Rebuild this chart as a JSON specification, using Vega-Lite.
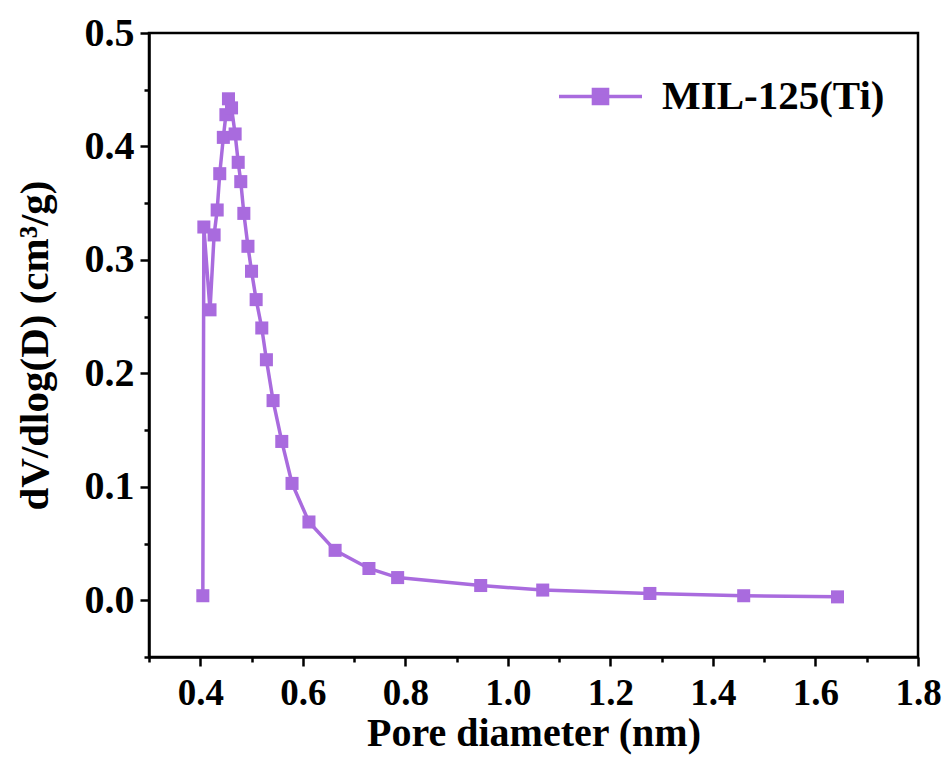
{
  "$schema": "https://vega.github.io/schema/vega-lite/v6.json",
  "width": 769,
  "height": 624,
  "autosize": "none",
  "padding": {"left": 149, "top": 33, "right": 34, "bottom": 101},
  "background": "white",
  "config": {
    "view": {"stroke": "black", "strokeWidth": 2.5},
    "font": "Liberation Serif"
  },
  "data": {
    "values": [
      {"i": 1, "d": 0.405, "v": 0.004, "s": "MIL-125(Ti)"},
      {"i": 2, "d": 0.407, "v": 0.329, "s": "MIL-125(Ti)"},
      {"i": 3, "d": 0.419, "v": 0.256, "s": "MIL-125(Ti)"},
      {"i": 4, "d": 0.427, "v": 0.322, "s": "MIL-125(Ti)"},
      {"i": 5, "d": 0.433, "v": 0.344, "s": "MIL-125(Ti)"},
      {"i": 6, "d": 0.438, "v": 0.376, "s": "MIL-125(Ti)"},
      {"i": 7, "d": 0.445, "v": 0.408, "s": "MIL-125(Ti)"},
      {"i": 8, "d": 0.45, "v": 0.428, "s": "MIL-125(Ti)"},
      {"i": 9, "d": 0.455, "v": 0.442, "s": "MIL-125(Ti)"},
      {"i": 10, "d": 0.461, "v": 0.434, "s": "MIL-125(Ti)"},
      {"i": 11, "d": 0.468, "v": 0.411, "s": "MIL-125(Ti)"},
      {"i": 12, "d": 0.474, "v": 0.386, "s": "MIL-125(Ti)"},
      {"i": 13, "d": 0.479, "v": 0.369, "s": "MIL-125(Ti)"},
      {"i": 14, "d": 0.485, "v": 0.341, "s": "MIL-125(Ti)"},
      {"i": 15, "d": 0.493, "v": 0.312, "s": "MIL-125(Ti)"},
      {"i": 16, "d": 0.5, "v": 0.29, "s": "MIL-125(Ti)"},
      {"i": 17, "d": 0.509, "v": 0.265, "s": "MIL-125(Ti)"},
      {"i": 18, "d": 0.52, "v": 0.24, "s": "MIL-125(Ti)"},
      {"i": 19, "d": 0.529, "v": 0.212, "s": "MIL-125(Ti)"},
      {"i": 20, "d": 0.542, "v": 0.176, "s": "MIL-125(Ti)"},
      {"i": 21, "d": 0.559, "v": 0.14, "s": "MIL-125(Ti)"},
      {"i": 22, "d": 0.579, "v": 0.103, "s": "MIL-125(Ti)"},
      {"i": 23, "d": 0.612, "v": 0.069, "s": "MIL-125(Ti)"},
      {"i": 24, "d": 0.663, "v": 0.044, "s": "MIL-125(Ti)"},
      {"i": 25, "d": 0.729, "v": 0.028, "s": "MIL-125(Ti)"},
      {"i": 26, "d": 0.785, "v": 0.02, "s": "MIL-125(Ti)"},
      {"i": 27, "d": 0.947, "v": 0.013, "s": "MIL-125(Ti)"},
      {"i": 28, "d": 1.068, "v": 0.009, "s": "MIL-125(Ti)"},
      {"i": 29, "d": 1.277, "v": 0.006, "s": "MIL-125(Ti)"},
      {"i": 30, "d": 1.46, "v": 0.004, "s": "MIL-125(Ti)"},
      {"i": 31, "d": 1.643, "v": 0.003, "s": "MIL-125(Ti)"}
    ]
  },
  "mark": {
    "type": "line",
    "strokeWidth": 3.5,
    "point": {"shape": "square", "size": 170, "filled": true, "opacity": 1}
  },
  "encoding": {
    "x": {
      "field": "d",
      "type": "quantitative",
      "scale": {"domain": [0.3, 1.8], "nice": false, "zero": false},
      "axis": {
        "title": "Pore diameter (nm)",
        "values": [0.3, 0.4, 0.5, 0.6, 0.7, 0.8, 0.9, 1.0, 1.1, 1.2, 1.3, 1.4, 1.5, 1.6, 1.7, 1.8],
        "format": ".1f",
        "labelExpr": "round(datum.value*10) % 2 == 0 ? datum.label : ''",
        "tickSize": {"condition": {"test": "round(datum.value*10) % 2 == 0", "value": 9}, "value": 5},
        "grid": false,
        "domainColor": "black",
        "domainWidth": 2.5,
        "tickColor": "black",
        "tickWidth": 2.5,
        "labelFont": "Liberation Serif",
        "labelFontWeight": "bold",
        "labelFontSize": 37,
        "labelColor": "black",
        "labelPadding": 9,
        "labelFlush": false,
        "labelOverlap": false,
        "titleFont": "Liberation Serif",
        "titleFontWeight": "bold",
        "titleFontSize": 40,
        "titleColor": "black",
        "titlePadding": 2
      }
    },
    "y": {
      "field": "v",
      "type": "quantitative",
      "scale": {"domain": [-0.05, 0.5], "nice": false, "zero": false},
      "axis": {
        "title": "dV/dlog(D) (cm³/g)",
        "values": [-0.05, 0, 0.05, 0.1, 0.15, 0.2, 0.25, 0.3, 0.35, 0.4, 0.45, 0.5],
        "format": ".1f",
        "labelExpr": "round(datum.value*100) % 10 == 0 ? datum.label : ''",
        "tickSize": {"condition": {"test": "round(datum.value*100) % 10 == 0", "value": 9}, "value": 5},
        "grid": false,
        "domainColor": "black",
        "domainWidth": 2.5,
        "tickColor": "black",
        "tickWidth": 2.5,
        "labelFont": "Liberation Serif",
        "labelFontWeight": "bold",
        "labelFontSize": 40,
        "labelColor": "black",
        "labelPadding": 6,
        "labelFlush": false,
        "labelOverlap": false,
        "titleFont": "Liberation Serif",
        "titleFontWeight": "bold",
        "titleFontSize": 41,
        "titleColor": "black",
        "titlePadding": 28
      }
    },
    "order": {"field": "i", "type": "quantitative"},
    "color": {
      "field": "s",
      "type": "nominal",
      "scale": {"range": ["#a96bde"]},
      "legend": {
        "title": null,
        "orient": "none",
        "legendX": 408,
        "legendY": 20,
        "padding": 0,
        "symbolType": "M-1,0L1,0M-0.17,-0.17L0.17,-0.17L0.17,0.17L-0.17,0.17Z",
        "symbolSize": 6889,
        "symbolStrokeWidth": 3.5,
        "symbolFillColor": "#a96bde",
        "symbolStrokeColor": "#a96bde",
        "labelFont": "Liberation Serif",
        "labelFontWeight": "bold",
        "labelFontSize": 41,
        "labelColor": "black",
        "labelOffset": 18,
        "labelLimit": 400
      }
    }
  }
}
